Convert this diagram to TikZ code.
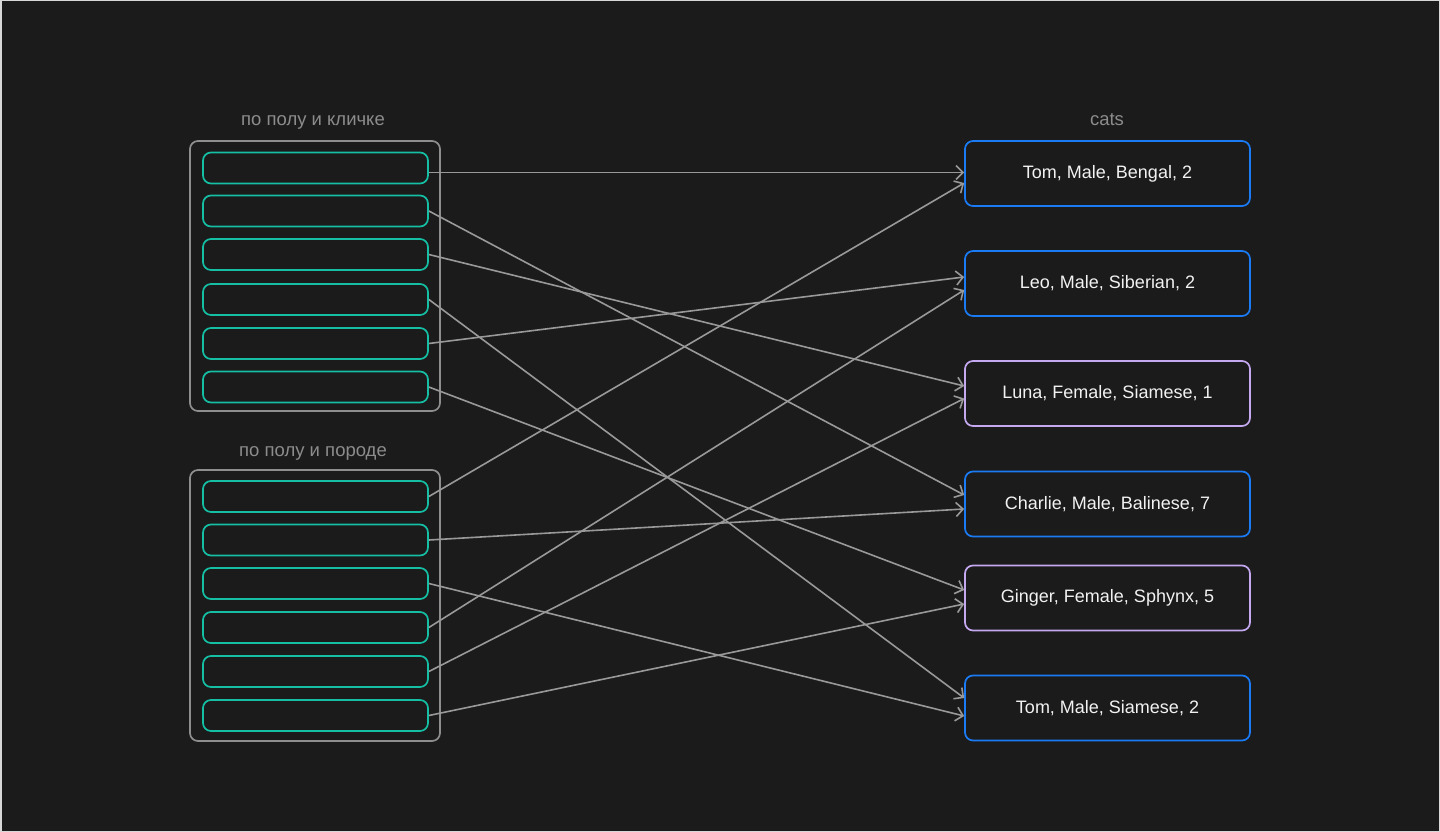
\documentclass[tikz,border=0pt]{standalone}
\usepackage{fontspec}
\setmainfont{Liberation Sans}
\usetikzlibrary{arrows.meta,calc}
\definecolor{bg}{HTML}{1B1B1B}
\definecolor{frame}{HTML}{D8D8D8}
\definecolor{outer}{HTML}{8E8E8E}
\definecolor{teal}{HTML}{14BFA4}
\definecolor{blueb}{HTML}{1A7BF5}
\definecolor{purp}{HTML}{C4A8F0}
\definecolor{conn}{HTML}{999999}
\definecolor{lbl}{HTML}{8C8C8C}
\definecolor{txt}{HTML}{F2F2F2}
\begin{document}
\begin{tikzpicture}[x=1pt,y=-1pt,
  group/.style={draw=outer,line width=1.7pt,rounded corners=8pt,minimum width=250pt,inner sep=0pt},
  row/.style={draw=teal,line width=1.7pt,rounded corners=8pt,minimum width=225pt,minimum height=31pt,inner sep=0pt},
  catbox/.style={draw=blueb,line width=1.7pt,rounded corners=8pt,minimum width=285pt,minimum height=65pt,inner sep=0pt,text=txt,font=\fontsize{18}{21}\selectfont},
  fcat/.style={catbox,draw=purp},
  title/.style={text=lbl,font=\fontsize{18.5}{21}\selectfont,inner sep=0pt,anchor=base},
  link/.style={draw=conn,line width=1.6pt,-{Straight Barb[length=7pt,width=14pt,line width=1.6pt]}}]
\fill[bg] (0,0) rectangle (1440,832);
\draw[frame,line width=1.5pt] (0.75,0.75) rectangle (1439.25,831.25);
\useasboundingbox (0,0) rectangle (1440,832);
% groups
\node[group,minimum height=270pt] (g1) at (315,276) {};
\node[group,minimum height=271pt] (g2) at (315,605.5) {};
\node[title] (t1) at (313,125) {по полу и кличке};
\node[title] (t2) at (313,456) {по полу и породе};
\node[title] (t3) at (1107,125) {cats};
% rows
\foreach \n/\y in {a1/168,a2/211,a3/254.5,a4/299.5,a5/343.5,a6/387,b1/496.5,b2/540,b3/583.5,b4/627.5,b5/671.5,b6/715.5}
  \node[row] (\n) at (315.5,\y) {};
% cats
\node[catbox] (c1) at (1107.5,173.5) {Tom, Male, Bengal, 2};
\node[catbox] (c2) at (1107.5,283.5) {Leo, Male, Siberian, 2};
\node[fcat]   (c3) at (1107.5,393.5) {Luna, Female, Siamese, 1};
\node[catbox] (c4) at (1107.5,504) {Charlie, Male, Balinese, 7};
\node[fcat]   (c5) at (1107.5,598) {Ginger, Female, Sphynx, 5};
\node[catbox] (c6) at (1107.5,708) {Tom, Male, Siamese, 2};
% links
\draw[link] ($(a1.east)+(0,4.5)$) -- ($(c1.west)+(0,-1)$);
\draw[link] (a2.east) -- ($(c4.west)+(0,-9)$);
\draw[link] (a3.east) -- ($(c3.west)+(0,-7.5)$);
\draw[link] (a4.east) -- ($(c6.west)+(0,-10)$);
\draw[link] (a5.east) -- ($(c2.west)+(0,-6.5)$);
\draw[link] (a6.east) -- ($(c5.west)+(0,-8)$);
\draw[link] (b1.east) -- ($(c1.west)+(0,9.5)$);
\draw[link] (b2.east) -- ($(c4.west)+(0,5)$);
\draw[link] (b3.east) -- ($(c6.west)+(0,8)$);
\draw[link] (b4.east) -- ($(c2.west)+(0,6.5)$);
\draw[link] (b5.east) -- ($(c3.west)+(0,5)$);
\draw[link] (b6.east) -- ($(c5.west)+(0,6)$);
\end{tikzpicture}
\end{document}
